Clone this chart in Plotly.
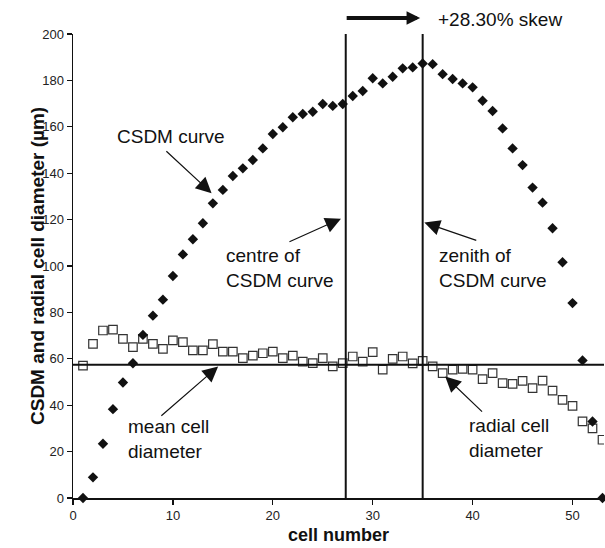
import plotly.graph_objects as go

cells = list(range(1, 54))
csdm = [0, 8.9, 23.4, 38.3, 49.8, 58.1, 70.3, 78.6, 85.5, 95.7,
        105, 111.5, 118.4, 127, 132.8, 138.8, 142.1, 145.7, 150.7, 156.9,
        159.8, 164.1, 165.5, 166.5, 169.8, 169, 169.8, 173.3, 175.4, 180.9,
        178.7, 181.6, 185.2, 185.6, 187.3, 187, 182.7, 180.6, 178.7, 177,
        171.2, 166.8, 159.3, 150.7, 143.5, 133.8, 127.3, 116.3, 101.6, 84,
        59.3, 33, 0]
radial = [57.1, 66.4, 72.2, 72.6, 68.6, 65, 68.6, 66.4, 64.3, 67.9,
          67.2, 63.6, 63.6, 66.3, 63.1, 63.1, 60.3, 61.4, 62.4, 63.1,
          60.3, 61.4, 58.8, 58.1, 60.3, 56.7, 58.1, 61, 58.8, 62.9,
          55.3, 60, 61, 58, 59.1, 56.7, 53.8, 55.3, 55.7, 55.3,
          51.2, 53.8, 49.5, 49.2, 50.5, 47.4, 50.6, 46.3, 42.3, 39.7,
          33, 30, 25.1]
centre_cell = 27.3
zenith_cell = 35.0
mean_diameter = 57.4
skew_label = "+28.30% skew"
x_ticks = [0, 10, 20, 30, 40, 50]
y_ticks = [0, 20, 40, 60, 80, 100, 120, 140, 160, 180, 200]

FONT = "Liberation Sans, Arial, sans-serif"

fig = go.Figure()
fig.add_trace(go.Scatter(
    x=cells, y=radial, mode="markers",
    marker=dict(symbol="square-open", size=8.5, color="#333",
                line=dict(width=1.2, color="#333")),
    showlegend=False))
fig.add_trace(go.Scatter(
    x=cells, y=csdm, mode="markers", cliponaxis=False,
    marker=dict(symbol="diamond", size=8, color="#111"),
    showlegend=False))

# reference lines
fig.add_shape(type="line", xref="paper", x0=0, x1=1, yref="y",
              y0=mean_diameter, y1=mean_diameter,
              line=dict(color="#111", width=2))
for xc in (centre_cell, zenith_cell):
    fig.add_shape(type="line", xref="x", x0=xc, x1=xc, yref="y",
                  y0=0, y1=200, line=dict(color="#111", width=2))

ann_font = dict(family=FONT, size=19, color="#111")

def pointer(x, y, ax, ay):
    fig.add_annotation(x=x, y=y, xref="x", yref="y", ax=ax, ay=ay,
                       text="", showarrow=True, arrowhead=2,
                       arrowsize=2.6, arrowwidth=1.2, arrowcolor="#111")

def label(x, y, text, yref="y"):
    fig.add_annotation(x=x, y=y, xref="x", yref=yref, text=text,
                       showarrow=False, xanchor="left", yanchor="middle",
                       align="left", font=ann_font)

pointer(13.87, 131.4, -46.7, -43.3)
label(4.2, 155.7, "CSDM curve")
pointer(26.82, 120.4, -53, 23.7)
label(15.1, 99.2, "centre of<br>CSDM curve")
pointer(35.17, 118.7, 53.4, 18.3)
label(36.47, 99.2, "zenith of<br>CSDM curve")
pointer(14.53, 56.7, -58.3, 50.6)
label(5.35, 25.6, "mean cell<br>diameter")
pointer(37.26, 52.4, 38.3, 36.6)
label(39.42, 26.0, "radial cell<br>diameter")

# skew arrow above the plot (paper y: plot top is at 34px, arrow at 18px)
fig.add_annotation(x=34.75, y=1.0345, xref="x", yref="paper", ax=-75, ay=0,
                   text="", showarrow=True, arrowhead=2, arrowsize=0.68,
                   arrowwidth=4, arrowcolor="#111")
label(36.34, 1.032, skew_label, yref="paper")

# y-axis title
fig.add_annotation(x=-0.0678, y=0.5, xref="paper", yref="paper",
                   xanchor="center", yanchor="middle",
                   text="<b>CSDM and radial cell diameter (µm)</b>",
                   textangle=-90, showarrow=False,
                   font=dict(family=FONT, size=19, color="#111"))

axis_common = dict(showline=True, linecolor="#111", linewidth=1.5,
                   ticks="outside", ticklen=5, tickwidth=1.2, tickcolor="#111",
                   showgrid=False, zeroline=False,
                   tickfont=dict(family=FONT, size=13, color="#222"))

fig.update_xaxes(range=[0, 53.15], tickvals=x_ticks,
                 title=dict(text="<b>cell number</b>", standoff=6,
                            font=dict(family=FONT, size=18, color="#111")),
                 **axis_common)
fig.update_yaxes(range=[0, 200], tickvals=y_ticks, **axis_common)

# plot area spans x 73..604, y 34..498 of the 605x548 page
fig.update_layout(width=605, height=548,
                  margin=dict(l=73, r=1, t=34, b=50),
                  plot_bgcolor="white", paper_bgcolor="white",
                  font=dict(family=FONT), hovermode=False)

fig.write_html("out.html",
               config={"displayModeBar": False, "staticPlot": True},
               post_script="document.body.style.margin='0';"
                           "document.documentElement.style.overflow='hidden';")
